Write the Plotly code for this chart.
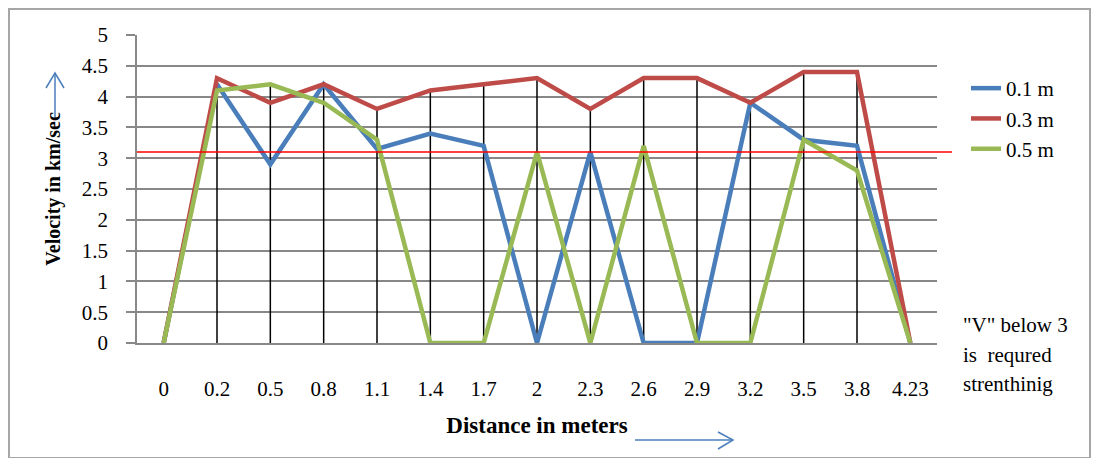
import plotly.graph_objects as go

distance = ["0", "0.2", "0.5", "0.8", "1.1", "1.4", "1.7", "2", "2.3", "2.6", "2.9", "3.2", "3.5", "3.8", "4.23"]
v_01 = [0, 4.2, 2.9, 4.2, 3.15, 3.4, 3.2, 0, 3.1, 0, 0, 3.9, 3.3, 3.2, 0]
v_03 = [0, 4.3, 3.9, 4.2, 3.8, 4.1, 4.2, 4.3, 3.8, 4.3, 4.3, 3.9, 4.4, 4.4, 0]
v_05 = [0, 4.1, 4.2, 3.9, 3.3, 0, 0, 3.1, 0, 3.2, 0, 0, 3.3, 2.8, 0]
threshold = 3.1
y_ticks = [0, 0.5, 1, 1.5, 2, 2.5, 3, 3.5, 4, 4.5, 5]

FONT = "Liberation Serif"

OFF = 8  # page body margin
W, H = 1099 - 2 * OFF, 466 - 2 * OFF
L, R, T, B = 137 - OFF, 937 - OFF, 35 - OFF, 343 - OFF
pw, ph = R - L, B - T

def px(x):  # page pixel -> paper
    return (x - OFF - L) / pw

def py(y):
    return (B - (y - OFF)) / ph

# drop lines from highest series value to axis
drop_x, drop_y = [], []
for i, c in enumerate(distance):
    top = max(v_01[i], v_03[i], v_05[i])
    drop_x += [c, c, None]
    drop_y += [0, top, None]

fig = go.Figure()
fig.add_trace(go.Scatter(x=drop_x, y=drop_y, mode="lines",
                         line=dict(color="black", width=1.5), showlegend=False, hoverinfo="skip"))
fig.add_trace(go.Scatter(x=distance, y=v_01, mode="lines", name="0.1 m",
                         line=dict(color="#4a7ebb", width=4.5)))
fig.add_trace(go.Scatter(x=distance, y=v_03, mode="lines", name="0.3 m",
                         line=dict(color="#be4b48", width=4.5)))
fig.add_trace(go.Scatter(x=distance, y=v_05, mode="lines", name="0.5 m",
                         line=dict(color="#98b954", width=4.5)))

# threshold line
fig.add_shape(type="line", xref="paper", yref="y", x0=0, x1=px(952), y0=threshold, y1=threshold,
              line=dict(color="red", width=1.5))

# outer chart border
fig.add_shape(type="rect", xref="paper", yref="paper", x0=px(9), x1=px(1090), y0=py(458), y1=py(9),
              line=dict(color="#a6a6a6", width=2), fillcolor="rgba(0,0,0,0)", layer="below")

# arrows (open chevron heads)
def path(points):
    return "M " + " L ".join(f"{px(a)},{py(b)}" for a, b in points)

arrow_line = dict(color="#4a7ebb", width=1.5)
fig.add_shape(type="path", xref="paper", yref="paper", path=path([(55, 118), (55, 73)]), line=arrow_line)
fig.add_shape(type="path", xref="paper", yref="paper", path=path([(46, 88), (55, 73), (64, 88)]), line=arrow_line)
fig.add_shape(type="path", xref="paper", yref="paper", path=path([(635, 440), (733, 440)]), line=arrow_line)
fig.add_shape(type="path", xref="paper", yref="paper", path=path([(718, 432), (733, 440), (718, 449)]), line=arrow_line)

# note text
for txt, yy in [("\"V\" below 3", 325), ("is  requred", 355), ("strenthinig", 384)]:
    fig.add_annotation(xref="paper", yref="paper", x=px(961), y=py(yy), xanchor="left", yanchor="middle",
                       text=txt, showarrow=False, font=dict(family=FONT, size=21, color="black"))

fig.update_layout(
    width=W, height=H, autosize=False,
    margin=dict(l=L, r=W - R, t=T, b=H - B),
    paper_bgcolor="white", plot_bgcolor="white",
    font=dict(family=FONT, size=21, color="black"),
    legend=dict(x=px(966), y=py(68), xanchor="left", yanchor="top",
                font=dict(family=FONT, size=21), bgcolor="rgba(0,0,0,0)", tracegroupgap=0),
    xaxis=dict(type="category", categoryorder="array", categoryarray=distance,
               showgrid=False, showline=True, linecolor="#888888", linewidth=1.5,
               ticks="", ticklabelstandoff=26, range=[-0.5, len(distance) - 0.5],
               title=dict(text="<b>Distance in meters</b>", font=dict(family=FONT, size=23), standoff=17)),
    yaxis=dict(range=[0, 5], tickvals=y_ticks, ticktext=[f"{v:g}" for v in y_ticks],
               showgrid=True, gridcolor="#888888", gridwidth=1.5,
               showline=True, linecolor="#888888", linewidth=1.5,
               ticks="outside", ticklen=9, tickcolor="#888888", tickwidth=1.5,
               ticklabelstandoff=14,
               zeroline=False,
               title=dict(text="<b>Velocity in km/sec</b>", font=dict(family=FONT, size=20), standoff=16)),
)

fig.write_html("out.html")
